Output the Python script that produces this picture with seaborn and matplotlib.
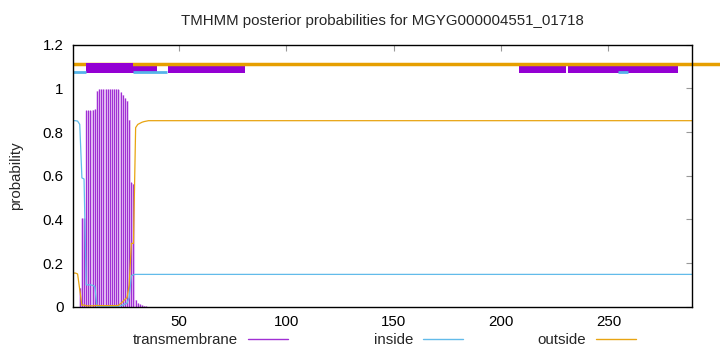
import numpy as np
import pandas as pd
import matplotlib
matplotlib.use("Agg")
import matplotlib.pyplot as plt
from matplotlib.lines import Line2D
import seaborn as sns

# ---------------- data ----------------
title = "TMHMM posterior probabilities for MGYG000004551_01718"
seq_len = 289
x_ticks = [50, 100, 150, 200, 250]
y_ticks = [0, 0.2, 0.4, 0.6, 0.8, 1.0, 1.2]
y_tick_labels = ["0", "0.2", "0.4", "0.6", "0.8", "1", "1.2"]
legend_labels = ["transmembrane", "inside", "outside"]

# posterior probabilities, residues 1..35, rest constant
tm_head = [0.0, 0.0, 0.0, 0.087, 0.406, 0.406, 0.899, 0.899, 0.899, 0.902,
           0.905, 0.989, 0.997, 0.997, 0.997, 0.997, 0.997, 0.997, 0.997, 0.997,
           0.997, 0.995, 0.983, 0.971, 0.956, 0.944, 0.857, 0.569, 0.563, 0.032,
           0.017, 0.012, 0.008, 0.005, 0.002]
tm_tail_value = 0.0
inside_head = [0.852, 0.852, 0.85, 0.835, 0.59, 0.585, 0.10, 0.10, 0.10, 0.098,
               0.093, 0.003, 0.0, 0.0, 0.0, 0.0, 0.0, 0.0, 0.0, 0.0,
               0.0, 0.002, 0.005, 0.007, 0.012, 0.016, 0.043, 0.141, 0.147, 0.148,
               0.148, 0.148, 0.148, 0.148, 0.148, 0.148]
inside_tail_value = 0.148
outside_head = [0.154, 0.154, 0.15, 0.077, 0.006, 0.008, 0.004, 0.004, 0.004, 0.004,
                0.005, 0.006, 0.005, 0.005, 0.005, 0.005, 0.005, 0.005, 0.005, 0.005,
                0.005, 0.006, 0.014, 0.023, 0.033, 0.042, 0.10, 0.29, 0.29, 0.82,
                0.835, 0.84, 0.845, 0.848, 0.85, 0.852]
outside_tail_value = 0.852

# topology track at the top (start, end) in residue coordinates
outside_track = [(1, 302)]
inside_track = [(1, 6.9), (28.8, 44.6), (254.3, 259.1)]
tm_track_tall = [(6.9, 28.9)]
tm_track = [(28.9, 40.1), (45.2, 80.9), (208.4, 230.1), (231.2, 282.2)]
outside_track_y = 1.112
inside_track_y = 1.074
tm_track_tall_y = (1.069, 1.118)
tm_track_y = (1.069, 1.104)

# ---------------- assemble ----------------
positions = np.arange(1, seq_len + 1)
tm = tm_head + [tm_tail_value] * (seq_len - len(tm_head))
inside = inside_head + [inside_tail_value] * (seq_len - len(inside_head))
outside = outside_head + [outside_tail_value] * (seq_len - len(outside_head))
df = pd.DataFrame({"pos": positions, "tm": tm, "inside": inside, "outside": outside})

C_TM = "#9400d3"
C_TM_LINE = "#a030d4"
C_TM_FILL = "#e4bdf3"
C_IN = "#62bbea"
C_OUT = "#e8a412"

sns.set_theme(style="white")
plt.rcParams["font.family"] = ["Liberation Sans", "DejaVu Sans"]
FS = 10.8

fig = plt.figure(figsize=(7.2, 3.52), dpi=100)
ax = fig.add_axes([73.3 / 720, 1 - 306.7 / 352, (692.3 - 73.3) / 720, (306.7 - 44.7) / 352])

# impulses for transmembrane (light antialias band plus dark stripes)
ax.fill_between(df["pos"], 0, df["tm"], step="mid", color=C_TM_FILL, linewidth=0, zorder=1)
ax.vlines(df["pos"], 0, df["tm"], colors=C_TM_LINE, linewidth=0.8, zorder=2)
sns.lineplot(data=df, x="pos", y="inside", color=C_IN, linewidth=0.9, ax=ax, zorder=3)
sns.lineplot(data=df, x="pos", y="outside", color=C_OUT, linewidth=0.9, ax=ax, zorder=3)

# topology track
for s, e in tm_track:
    ax.broken_barh([(s, e - s)], (tm_track_y[0], tm_track_y[1] - tm_track_y[0]),
                   facecolors=C_TM, edgecolor="none", zorder=4)
for s, e in outside_track:
    ax.plot([s, e], [outside_track_y, outside_track_y], color="#e69f00", linewidth=2.5,
            solid_capstyle="butt", clip_on=False, zorder=5)
for s, e in tm_track_tall:
    ax.broken_barh([(s, e - s)], (tm_track_tall_y[0], tm_track_tall_y[1] - tm_track_tall_y[0]),
                   facecolors=C_TM, edgecolor="none", zorder=6)
for s, e in inside_track:
    ax.plot([s, e], [inside_track_y, inside_track_y], color="#56b4e9", linewidth=2.0,
            solid_capstyle="butt", zorder=7)

ax.set_xlim(1, seq_len)
ax.set_ylim(0, 1.2)
ax.set_xticks(x_ticks)
ax.set_xticklabels([str(t) for t in x_ticks])
ax.set_yticks(y_ticks)
ax.set_yticklabels(y_tick_labels)
ax.tick_params(axis="both", direction="in", length=4, width=0.8, color="#999999",
               labelsize=FS, labelcolor="black", top=True, right=True)
ax.tick_params(axis="y", pad=7)
ax.tick_params(axis="x", pad=6)
for sp in ax.spines.values():
    sp.set_color("black")
    sp.set_linewidth(1.0)
    sp.set_zorder(8)

ax.set_xlabel("")
ax.set_ylabel("probability", fontsize=FS)
ax.yaxis.set_label_coords(-0.081, 0.5)
ax.set_title(title, fontsize=FS, pad=14)

# legend (gnuplot style: text then sample line)
handles = [Line2D([], [], color=C_TM_LINE, linewidth=1.0),
           Line2D([], [], color=C_IN, linewidth=1.0),
           Line2D([], [], color=C_OUT, linewidth=1.0)]
anchors_x = [288 / 720, 463 / 720, 636 / 720]
legs = []
for h, lab, xa in zip(handles, legend_labels, anchors_x):
    leg = ax.legend(handles=[h], labels=[lab], loc="center right",
                    bbox_to_anchor=(xa, 1 - 340 / 352), bbox_transform=fig.transFigure,
                    markerfirst=False, frameon=False, fontsize=FS,
                    handlelength=40 / 15, handletextpad=10 / 15,
                    borderpad=0, borderaxespad=0)
    legs.append(leg)
for leg in legs[:-1]:
    ax.add_artist(leg)

fig.savefig("out.png", dpi=100)
